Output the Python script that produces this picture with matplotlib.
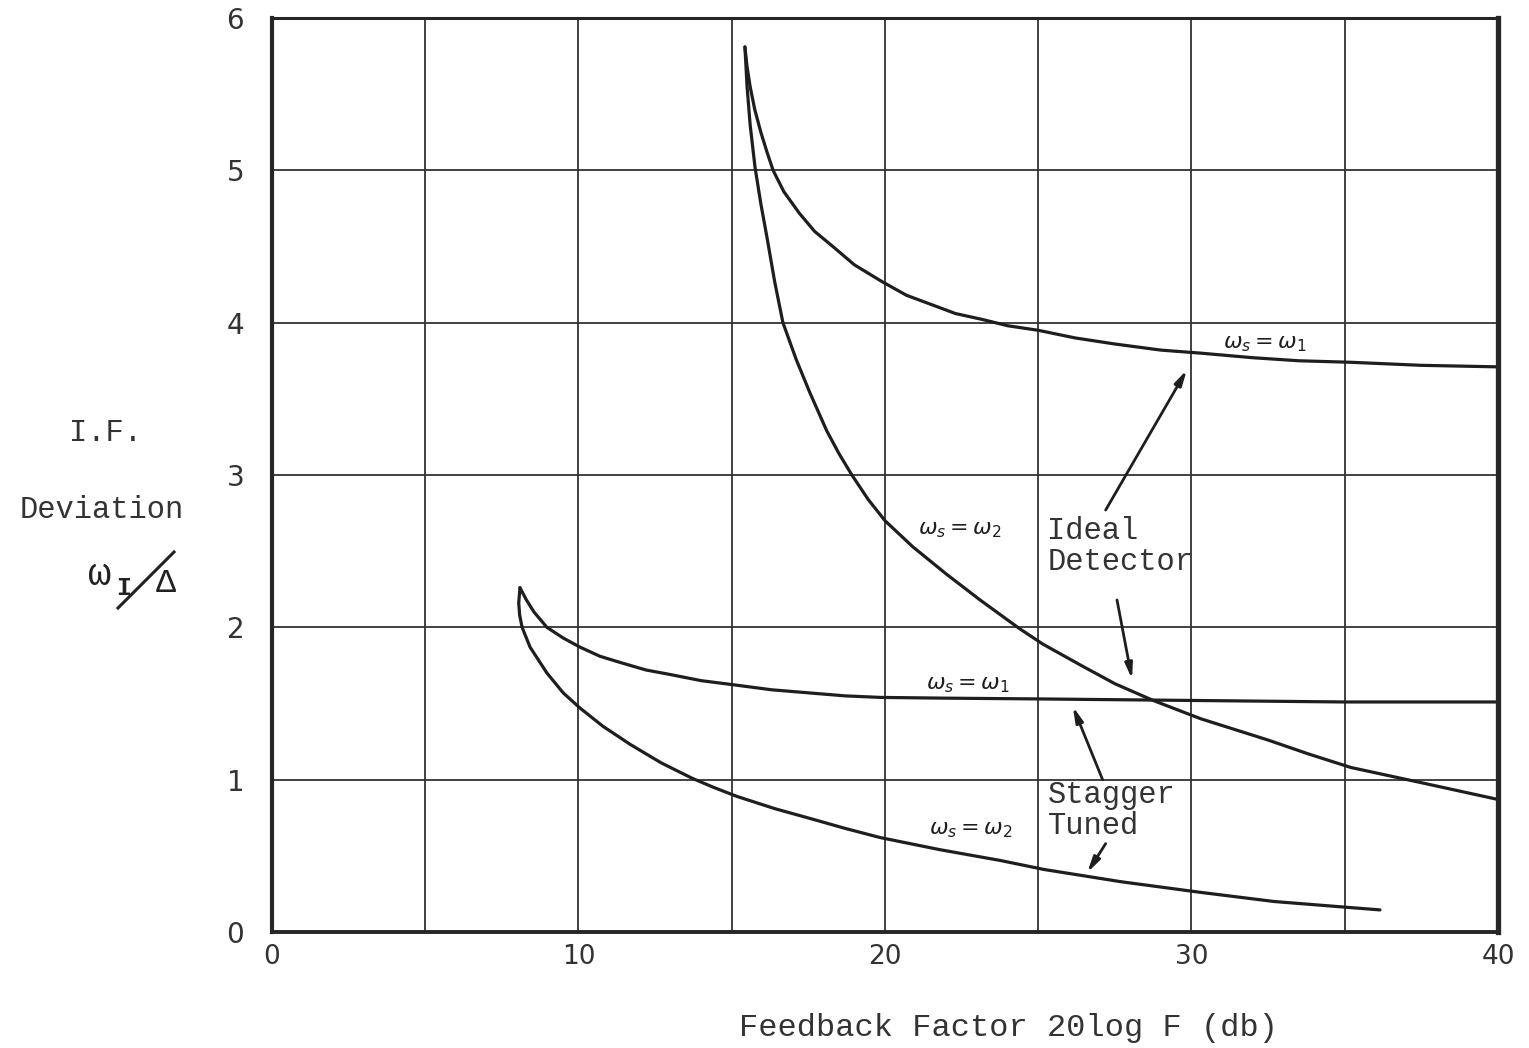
import matplotlib
matplotlib.use("Agg")
import matplotlib.pyplot as plt
from matplotlib.lines import Line2D

# ---- data: I.F. deviation vs feedback factor ----
ideal_w1_x = [15.43, 15.5, 15.6, 15.75, 15.95, 16.15, 16.35, 16.7, 17.2, 17.7, 18.3, 19.0,
              19.9, 20.7, 21.5, 22.3, 23.2, 24.0, 25.0, 26.2, 27.5, 29.0, 30.3, 32.0,
              33.5, 35.2, 37.5, 40.0]
ideal_w1_y = [5.81, 5.68, 5.55, 5.40, 5.25, 5.12, 5.00, 4.86, 4.72, 4.60, 4.50, 4.38,
              4.27, 4.18, 4.12, 4.06, 4.02, 3.98, 3.95, 3.90, 3.86, 3.82, 3.80, 3.77,
              3.75, 3.74, 3.72, 3.71]

ideal_w2_x = [15.43, 15.5, 15.6, 15.76, 15.95, 16.15, 16.4, 16.67, 17.1, 17.55, 18.1, 18.5,
              18.92, 19.45, 20.0, 20.9, 22.0, 23.1, 24.4, 25.15, 26.4, 27.5, 28.75, 30.3,
              31.4, 32.5, 33.8, 35.2, 37.5, 40.0]
ideal_w2_y = [5.81, 5.55, 5.30, 5.02, 4.78, 4.56, 4.27, 4.00, 3.76, 3.54, 3.29, 3.14,
              3.00, 2.84, 2.70, 2.53, 2.35, 2.18, 1.99, 1.89, 1.75, 1.63, 1.52, 1.40,
              1.33, 1.26, 1.17, 1.08, 0.98, 0.87]

stagger_w1_x = [8.09, 8.3, 8.55, 8.97, 9.5, 10.05, 10.7, 11.35, 12.2, 13.0, 14.0, 15.17,
                16.3, 17.5, 18.7, 19.84, 22.0, 25.0, 30.0, 35.0, 40.0]
stagger_w1_y = [2.26, 2.18, 2.10, 2.00, 1.93, 1.87, 1.81, 1.77, 1.72, 1.69, 1.65, 1.62,
                1.59, 1.57, 1.55, 1.54, 1.535, 1.53, 1.52, 1.51, 1.51]

stagger_w2_x = [8.09, 8.05, 8.08, 8.16, 8.42, 8.97, 9.5, 10.05, 10.8, 11.7, 12.7, 13.7,
                14.4, 15.17, 16.4, 17.65, 18.7, 19.84, 21.8, 23.75, 25.2, 27.7, 30.3,
                32.7, 35.2, 36.15]
stagger_w2_y = [2.26, 2.16, 2.08, 2.00, 1.87, 1.70, 1.57, 1.47, 1.35, 1.23, 1.11, 1.01,
                0.95, 0.89, 0.81, 0.74, 0.68, 0.62, 0.54, 0.47, 0.41, 0.33, 0.26,
                0.20, 0.16, 0.145]

x_major = [0, 10, 20, 30, 40]
x_grid = [5, 15, 25, 35]
y_major = [0, 1, 2, 3, 4, 5, 6]

ink = "#1e1e1e"
mono = "Liberation Mono"

fig = plt.figure(figsize=(15.29, 10.48), dpi=100)
ax = fig.add_axes([0.1779, 0.1107, 0.9797 - 0.1779, 0.9828 - 0.1107])

ax.set_xlim(0, 40)
ax.set_ylim(0, 6)
ax.set_xticks(x_major)
ax.set_xticks(x_grid, minor=True)
ax.set_yticks(y_major)
ax.grid(True, which="both", color="#333333", lw=1.3)
ax.set_axisbelow(True)
ax.tick_params(which="both", length=0)
ax.tick_params(axis="x", pad=9, labelsize=19, labelcolor="#333333")
ax.tick_params(axis="y", pad=20, labelsize=20, labelcolor="#333333")

for side, w in {"left": 3.0, "bottom": 2.8, "top": 2.2, "right": 3.8}.items():
    ax.spines[side].set_linewidth(w)
    ax.spines[side].set_color("#262626")

curve_kw = dict(color=ink, lw=2.3, solid_capstyle="round", solid_joinstyle="round")
ax.plot(ideal_w1_x, ideal_w1_y, **curve_kw)
ax.plot(ideal_w2_x, ideal_w2_y, **curve_kw)
ax.plot(stagger_w1_x, stagger_w1_y, **curve_kw)
ax.plot(stagger_w2_x, stagger_w2_y, **curve_kw)

# handwritten curve labels
lab_kw = dict(fontsize=16, color=ink, ha="center", va="center")
ax.text(32.4, 3.86, r"$\omega_s = \omega_1$", **lab_kw)
ax.text(22.45, 2.64, r"$\omega_s = \omega_2$", **lab_kw)
ax.text(22.7, 1.62, r"$\omega_s = \omega_1$", **lab_kw)
ax.text(22.8, 0.67, r"$\omega_s = \omega_2$", **lab_kw)

# group annotations
txt_kw = dict(fontsize=22, family=mono, color="#333333", ha="left", va="center",
              linespacing=1.05)
ax.text(25.3, 2.53, "Ideal\nDetector", **txt_kw)
ax.text(25.3, 0.80, "Stagger\nTuned", **txt_kw)

arrow = dict(arrowstyle="-|>,head_length=0.9,head_width=0.22", lw=2.0, color=ink,
             shrinkA=0, shrinkB=0)
ax.annotate("", xy=(29.85, 3.69), xytext=(27.2, 2.77), arrowprops=arrow)
ax.annotate("", xy=(28.06, 1.66), xytext=(27.57, 2.18), arrowprops=arrow)
ax.annotate("", xy=(26.13, 1.48), xytext=(27.1, 1.00), arrowprops=arrow)
ax.annotate("", xy=(26.6, 0.39), xytext=(27.2, 0.58), arrowprops=arrow)

# axis titles
fig.text(1008 / 1529, 1 - 1028 / 1048, "Feedback Factor 20log F (db)", fontsize=23,
         family=mono, color="#333333", ha="center", va="center")
fig.text(105 / 1529, 1 - 433 / 1048, "I.F.", fontsize=22, family=mono,
         color="#333333", ha="center", va="center")
fig.text(102 / 1529, 1 - 510 / 1048, "Deviation", fontsize=22, family=mono,
         color="#333333", ha="center", va="center")
fig.text(100 / 1529, 1 - 575 / 1048, "\u03c9", fontsize=28, family=mono,
         color="#222222", ha="center", va="center")
fig.text(124 / 1529, 1 - 588 / 1048, "I", fontsize=18, family=mono,
         color="#222222", ha="center", va="center", fontweight="bold")
fig.text(166 / 1529, 1 - 584 / 1048, "\u0394", fontsize=24, family=mono,
         color="#222222", ha="center", va="center")
fig.add_artist(Line2D([118 / 1529, 174 / 1529], [1 - 608 / 1048, 1 - 552 / 1048],
                      color="#222222", lw=2.2, transform=fig.transFigure))

fig.savefig("out.png", dpi=100, facecolor="white")
